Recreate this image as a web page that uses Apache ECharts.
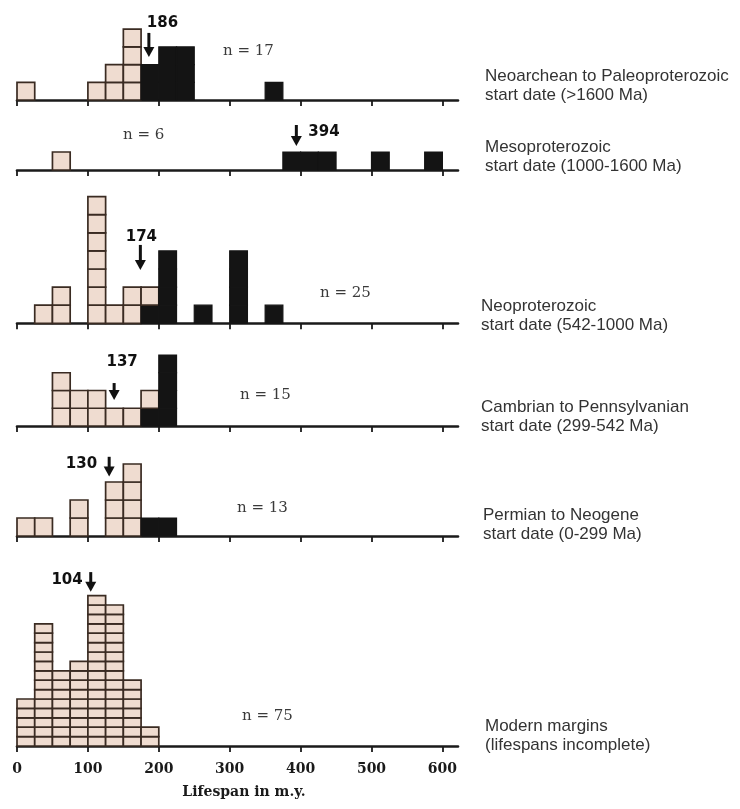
<!DOCTYPE html>
<html>
<head>
<meta charset="utf-8">
<script src="https://cdn.jsdelivr.net/npm/echarts@6/dist/echarts.min.js"></script>
<style>
html,body{margin:0;padding:0;background:#fff;}
#chart{width:740px;height:809px;}
</style>
</head>
<body>
<div id="chart"></div>
<script>
// Bin starts (m.y.), bin width 25
const binStarts = [0,25,50,75,100,125,150,175,200,225,250,275,300,325,350,375,400,425,450,475,500,525,550,575];
const binWidth = 25;
const tickValues = [0,100,200,300,400,500,600];

// Counts per bin: light (open) cells and black (filled) cells
const neoarcheanLight = [1,0,0,0,1,2,4,0,0,0,0,0,0,0,0,0,0,0,0,0,0,0,0,0];
const neoarcheanBlack = [0,0,0,0,0,0,0,2,3,3,0,0,0,0,1,0,0,0,0,0,0,0,0,0];
const mesoLight       = [0,0,1,0,0,0,0,0,0,0,0,0,0,0,0,0,0,0,0,0,0,0,0,0];
const mesoBlack       = [0,0,0,0,0,0,0,0,0,0,0,0,0,0,0,1,1,1,0,0,1,0,0,1];
const neoproLight     = [0,1,2,0,7,1,2,1,0,0,0,0,0,0,0,0,0,0,0,0,0,0,0,0];
const neoproBlack     = [0,0,0,0,0,0,0,1,4,0,1,0,4,0,1,0,0,0,0,0,0,0,0,0];
const cambrianLight   = [0,0,3,2,2,1,1,1,0,0,0,0,0,0,0,0,0,0,0,0,0,0,0,0];
const cambrianBlack   = [0,0,0,0,0,0,0,1,4,0,0,0,0,0,0,0,0,0,0,0,0,0,0,0];
const permianLight    = [1,1,0,2,0,3,4,0,0,0,0,0,0,0,0,0,0,0,0,0,0,0,0,0];
const permianBlack    = [0,0,0,0,0,0,0,1,1,0,0,0,0,0,0,0,0,0,0,0,0,0,0,0];
const modernLight     = [5,13,8,9,16,15,7,2,0,0,0,0,0,0,0,0,0,0,0,0,0,0,0,0];
const modernBlack     = [0,0,0,0,0,0,0,0,0,0,0,0,0,0,0,0,0,0,0,0,0,0,0,0];

const medians = [186, 394, 174, 137, 130, 104];
const nLabels = ['n = 17', 'n = 6', 'n = 25', 'n = 15', 'n = 13', 'n = 75'];
const panelTitles = [
  'Neoarchean to Paleoproterozoic\nstart date (>1600 Ma)',
  'Mesoproterozoic\nstart date (1000-1600 Ma)',
  'Neoproterozoic\nstart date (542-1000 Ma)',
  'Cambrian to Pennsylvanian\nstart date (299-542 Ma)',
  'Permian to Neogene\nstart date (0-299 Ma)',
  'Modern margins\n(lifespans incomplete)'
];
const axisTitle = 'Lifespan in m.y.';

const lightSets = [neoarcheanLight, mesoLight, neoproLight, cambrianLight, permianLight, modernLight];
const blackSets = [neoarcheanBlack, mesoBlack, neoproBlack, cambrianBlack, permianBlack, modernBlack];

// ---- layout (pixels / style only) ----
const gridLayout = [
  {top: 29.2, height: 70.8, ymax: 4},
  {top: 152, height: 18, ymax: 1},
  {top: 196.6, height: 126.7, ymax: 7},
  {top: 355, height: 71, ymax: 4},
  {top: 464, height: 72, ymax: 4},
  {top: 595.6, height: 150.4, ymax: 16}
];
// arrow top / tip in count units, label offsets
const arrowLayout = [
  {top: 3.79, tip: 2.43, dx: -2, dy: -10, align: 'left'},
  {top: 2.5,  tip: 1.33, dx: 12, dy: 7,   align: 'left'},
  {top: 4.33, tip: 2.94, dx: 1,  dy: -8,  align: 'center'},
  {top: 2.42, tip: 1.46, dx: 8,  dy: -21, align: 'center'},
  {top: 4.4,  tip: 3.3,  dx: -12, dy: 7,  align: 'right'},
  {top: 18.5, tip: 16.4, dx: -8, dy: 8,   align: 'right'}
];
const nLabelPos = [[223,53],[123,137],[320,295],[240,397],[237,510],[242,718]];
const titlePos = [[485,86],[485,157],[481,316],[481,417],[483,525],[485,736]];

const LIGHT = '#efdcd0';
const BORDER = '#3a2b22';
const BLACK = '#141414';

const grids = [], xAxes = [], yAxes = [], series = [];
gridLayout.forEach((g, i) => {
  grids.push({left: 17, width: 441, top: g.top, height: g.height});
  const last = i === gridLayout.length - 1;
  xAxes.push({
    type: 'value', gridIndex: i, min: 0, max: 622,
    splitLine: {show: false},
    axisLine: {show: true, lineStyle: {color: '#1a1a1a', width: 2.6}},
    axisTick: {show: true, customValues: tickValues, length: 6, lineStyle: {color: '#1a1a1a', width: 1.8}},
    axisLabel: last ? {
      show: true, customValues: tickValues, margin: 16,
      fontFamily: 'DejaVu Serif', fontWeight: 'bold', fontSize: 14, color: '#1a1a1a'
    } : {show: false}
  });
  yAxes.push({type: 'value', gridIndex: i, min: 0, max: g.ymax, show: false, splitLine: {show: false}});

  // build cells: black stacked first, light on top
  const cells = [];
  binStarts.forEach((b, k) => {
    const nb = blackSets[i][k], nl = lightSets[i][k];
    for (let j = 0; j < nb; j++) cells.push([b, j, 0]);
    for (let j = 0; j < nl; j++) cells.push([b, nb + j, 1]);
  });
  series.push({
    type: 'custom', xAxisIndex: i, yAxisIndex: i, clip: false, silent: true,
    data: cells,
    renderItem: function (params, api) {
      const x0 = api.value(0), lvl = api.value(1), kind = api.value(2);
      const p0 = api.coord([x0, lvl]);
      const p1 = api.coord([x0 + binWidth, lvl + 1]);
      return {
        type: 'rect',
        shape: {x: p0[0], y: p1[1], width: p1[0] - p0[0], height: p0[1] - p1[1]},
        style: kind ? {fill: LIGHT, stroke: BORDER, lineWidth: 1.7}
                    : {fill: BLACK, stroke: BLACK, lineWidth: 1.2}
      };
    }
  });

  // median arrow
  const al = arrowLayout[i];
  series.push({
    type: 'custom', xAxisIndex: i, yAxisIndex: i, clip: false, silent: true,
    data: [[medians[i], al.top, al.tip]],
    renderItem: function (params, api) {
      const top = api.coord([api.value(0), api.value(1)]);
      const tip = api.coord([api.value(0), api.value(2)]);
      const x = top[0];
      const hh = 10, hw = 5.5;
      return {
        type: 'group',
        children: [
          {type: 'line', shape: {x1: x, y1: top[1], x2: x, y2: tip[1] - hh + 1},
           style: {stroke: '#111', lineWidth: 3}},
          {type: 'polygon', shape: {points: [[x - hw, tip[1] - hh], [x + hw, tip[1] - hh], [x, tip[1]]]},
           style: {fill: '#111'}},
          {type: 'text', x: x + al.dx, y: top[1] + al.dy,
           style: {text: String(medians[i]), fill: '#111', font: 'bold 15px "DejaVu Sans"',
                   align: al.align, verticalAlign: 'middle'}}
        ]
      };
    }
  });
});

const graphics = [];
nLabels.forEach((t, i) => {
  graphics.push({type: 'text', left: nLabelPos[i][0], top: nLabelPos[i][1] - 9,
    style: {text: t, fill: '#3a3a3a', font: '15px "DejaVu Serif"'}});
});
panelTitles.forEach((t, i) => {
  graphics.push({type: 'text', x: titlePos[i][0], y: titlePos[i][1],
    style: {text: t, fill: '#333', font: '17px "Liberation Sans"', lineHeight: 19,
            verticalAlign: 'middle', align: 'left'}});
});
graphics.push({type: 'text', x: 244, y: 792,
  style: {text: axisTitle, fill: '#1a1a1a', font: 'bold 14px "DejaVu Serif"', align: 'center', verticalAlign: 'middle'}});

const chart = echarts.init(document.getElementById('chart'), null, {renderer: 'canvas'});
chart.setOption({
  animation: false,
  backgroundColor: '#fff',
  grid: grids,
  xAxis: xAxes,
  yAxis: yAxes,
  series: series,
  graphic: graphics
});
</script>
</body>
</html>
